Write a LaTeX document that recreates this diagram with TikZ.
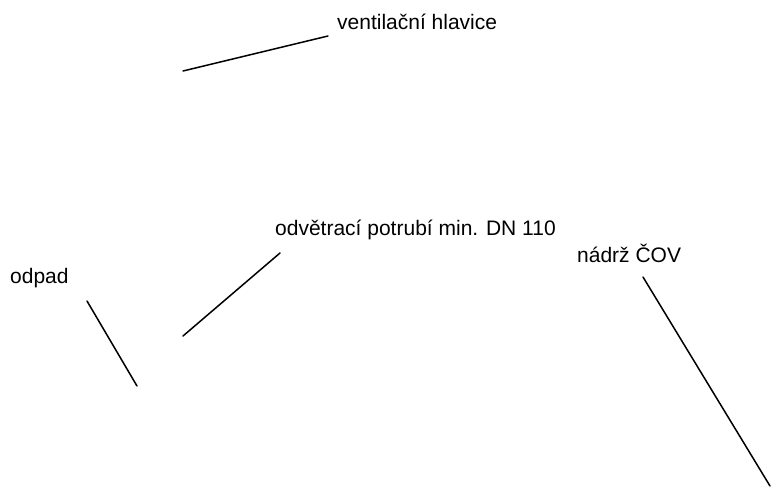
\documentclass[tikz,border=0pt]{standalone}
\usepackage{fontspec}
\setmainfont{Liberation Sans}
\usepackage{tikz}
\usetikzlibrary{positioning}
\tikzstyle{popis}=[anchor=base west,inner sep=0pt,font=\fontsize{21}{25}\selectfont]
\tikzstyle{vodic}=[draw,line width=1.5pt,line cap=round]

\begin{document}
\begin{tikzpicture}[x=1pt,y=-1pt]
  \useasboundingbox (0,0) rectangle (771,495);
  \node[popis] (hl) at (337,30)  {ventilační hlavice};
  \node[popis] (po) at (275,235) {odvětrací potrubí min. DN 110};
  \node[popis] (od) at (10,283)  {odpad};
  \node[popis] (co) at (577,262) {nádrž ČOV};

  \coordinate (hl1) at (328,36);  \coordinate (hl2) at (183,71);
  \coordinate (po1) at (280,253); \coordinate (po2) at (183,336);
  \coordinate (od1) at (87,301);  \coordinate (od2) at (137,386);
  \coordinate (co1) at (643,277); \coordinate (co2) at (770,486);

  \path[vodic] (hl1) -- (hl2)
	(po1) -- (po2)
	(od1) -- (od2)
	(co1) -- (co2);
\end{tikzpicture}
\end{document}
